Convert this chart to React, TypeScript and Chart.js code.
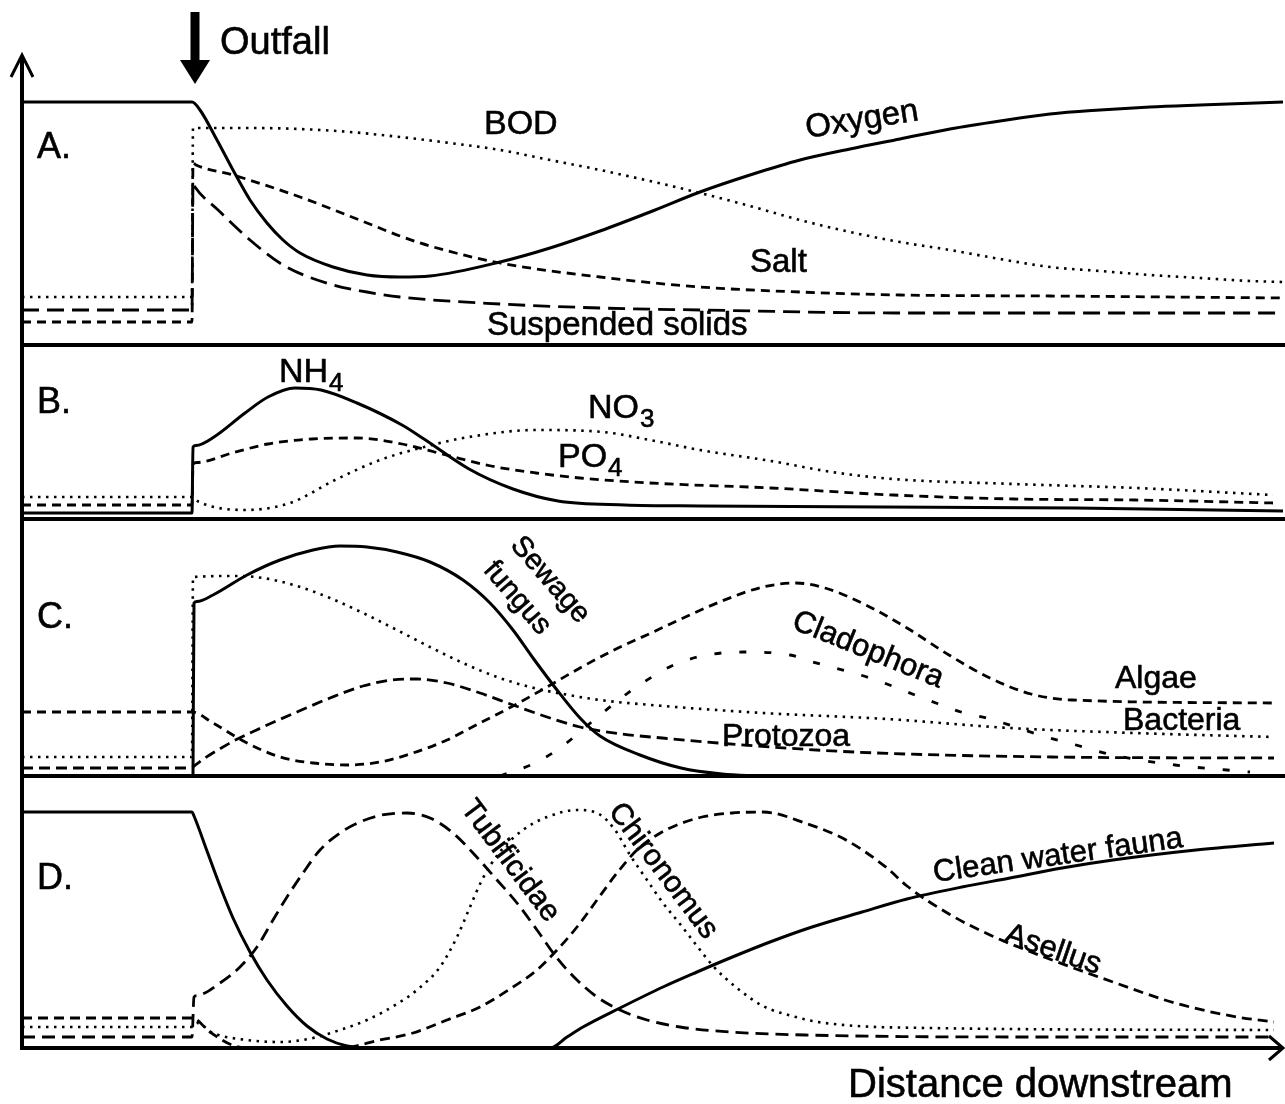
import React, { useEffect, useRef } from "react";
import { Chart, registerables } from "chart.js";

Chart.register(...registerables);

type Pt = [number, number];

// Distance downstream (0 = left axis, outfall at ~171) and level above each panel's floor.
const panelFloor = [703, 529, 272, 0]; // A, B, C, D
const yTop = 993;
const xMax = 1261;
const outfallAt = 172;

// ---- Panel A ----
const oxygen: Pt[] = [[0,243],[170,243],[178,235],[195,205],[211,175],[228,145],[245,122],[261,105],[278,92],[311,78],[345,70],[378,68],[408,69],[478,83],[528,97],[578,114],[628,133],[678,153],[728,170],[778,185],[828,196],[878,206],[928,216],[978,224],[1028,231],[1078,235],[1128,238],[1178,240],[1261,243]];
const bod: Pt[] = [[0,48],[170,48],[171,217],[228,217],[278,216],[328,213],[378,208],[428,202],[478,195],[528,185],[578,175],[628,164],[678,152],[728,139],[778,125],[828,113],[878,103],[928,95],[978,86],[1028,78],[1078,74],[1128,70],[1178,67],[1228,64],[1261,63]];
const salt: Pt[] = [[0,23],[170,23],[171,182],[174,180],[211,170],[278,148],[345,122],[378,109],[408,99],[478,82],[578,68],[678,58],[778,53],[878,50],[1028,49],[1261,47]];
const suspendedSolids: Pt[] = [[0,35],[170,35],[171,162],[173,158],[195,136],[228,105],[261,80],[311,60],[345,53],[378,48],[478,41],[578,37],[678,35],[878,32],[1261,32]];

// ---- Panel B ----
const nh4: Pt[] = [[0,6],[170,6],[171,72],[174,73.5],[192,82],[223,106],[246,122],[273,131],[299,129],[335,116],[380,94],[402,80],[447,50],[491,30],[536,18],[603,14],[678,13],[1053,11],[1261,8]];
const po4: Pt[] = [[0,14],[170,14],[171,55],[175,56.5],[210,66],[246,75],[290,80],[335,81],[380,75],[424,64],[469,53],[514,46],[558,41],[628,36],[749,31],[871,24],[992,20],[1114,19],[1251,16]];
const no3: Pt[] = [[0,22],[170,22],[177,17],[223,9],[268,16],[313,39],[358,59],[402,72],[447,82],[514,89],[581,87],[628,79],[678,69],[749,58],[810,47],[871,40],[992,35],[1114,31],[1251,24]];

// ---- Panel C ----
const sewageFungus: Pt[] = [[171,0],[172,173],[175,174.5],[191,181],[225,201],[258,216],[291,226],[318,230],[345,229],[375,224],[408,214],[441,196],[468,173],[491,146],[511,118],[535,86],[558,58],[578,40],[618,21],[659,8],[700,2],[738,0]];
const bacteria: Pt[] = [[0,19],[170,19],[171,199],[215,200],[241,198],[275,190],[308,178],[341,163],[375,146],[408,129],[441,113],[475,99],[508,89],[541,82],[578,76],[629,71],[741,63],[865,57],[988,48],[1112,43],[1252,39]];
const algae: Pt[] = [[0,64],[170,64],[191,53],[225,33],[258,19],[291,13],[325,11],[358,14],[391,23],[425,36],[458,53],[491,70],[525,89],[558,108],[590,125],[629,143],[659,157],[700,175],[741,189],[774,193],[803,188],[844,171],[885,148],[927,121],[968,98],[1009,82],[1050,76],[1252,73]];
const protozoa: Pt[] = [[0,8],[170,8],[171,9],[208,33],[241,49],[275,64],[308,78],[341,90],[370,96],[395,97],[425,93],[458,83],[491,71],[525,59],[558,49],[600,42],[640,38],[696,33],[832,24],[1030,19],[1252,18]];
const cladophora: Pt[] = [[478,0],[513,13],[538,28],[578,61],[613,88],[659,114],[721,124],[768,121],[791,114],[848,98],[906,76],[939,64],[968,57],[1021,40],[1054,31],[1091,21],[1153,11],[1228,4]];

// ---- Panel D ----
const cleanWaterFauna: Pt[] = [[0,236],[170,236],[172,232],[185,197],[198,162],[211,130],[228,96],[245,68],[265,42],[285,22],[305,9],[325,2],[345,0],[528,0],[545,11],[561,21],[598,40],[641,61],[675,76],[708,90],[748,106],[790,121],[840,136],[885,149],[940,161],[988,170],[1040,180],[1091,188],[1174,198],[1252,205]];
const tubificidae: Pt[] = [[0,11],[170,11],[172,51],[175,52.5],[198,65],[218,81],[235,101],[251,128],[265,151],[281,175],[298,198],[318,215],[338,226],[360,233],[385,235],[408,230],[431,215],[451,195],[475,168],[495,145],[515,118],[535,90],[555,68],[575,51],[598,38],[625,28],[658,21],[708,16],[783,13],[1030,11],[1252,11]];
const chironomus: Pt[] = [[0,21],[170,21],[175,25],[191,15],[225,8],[258,6],[291,10],[318,18],[345,28],[375,44],[395,58],[418,81],[435,111],[448,141],[460,168],[477,195],[501,218],[525,231],[555,238],[577,234],[593,218],[608,193],[625,168],[641,145],[658,124],[675,102],[692,81],[715,60],[741,42],[770,32],[803,25],[906,20],[1252,18]];
const asellus: Pt[] = [[0,30],[170,30],[188,16],[210,3],[228,0],[318,0],[358,8],[391,15],[425,28],[458,41],[491,61],[515,78],[535,98],[555,121],[575,148],[595,175],[615,198],[635,213],[655,223],[680,231],[710,235],[741,236],[783,225],[824,208],[865,180],[885,162],[927,134],[968,113],[1030,88],[1091,66],[1153,45],[1215,31],[1252,26]];

const SOLID = { width: 3, dash: [] as number[] };
const DOT = { width: 2.6, dash: [2.5, 5.5] };
const SHORTDASH = { width: 2.8, dash: [9, 6] };
const LONGDASH = { width: 2.8, dash: [17, 8] };
const SPARSE = { width: 2.8, dash: [7, 18] };

const series = [
  { name: "Oxygen", pts: oxygen, panel: 0, style: SOLID },
  { name: "BOD", pts: bod, panel: 0, style: DOT },
  { name: "Salt", pts: salt, panel: 0, style: SHORTDASH },
  { name: "Suspended solids", pts: suspendedSolids, panel: 0, style: LONGDASH },
  { name: "NH4", pts: nh4, panel: 1, style: SOLID },
  { name: "NO3", pts: no3, panel: 1, style: DOT },
  { name: "PO4", pts: po4, panel: 1, style: SHORTDASH },
  { name: "Sewage fungus", pts: sewageFungus, panel: 2, style: SOLID },
  { name: "Bacteria", pts: bacteria, panel: 2, style: DOT },
  { name: "Algae", pts: algae, panel: 2, style: SHORTDASH },
  { name: "Protozoa", pts: protozoa, panel: 2, style: { width: 2.8, dash: [11, 6] } },
  { name: "Cladophora", pts: cladophora, panel: 2, style: SPARSE },
  { name: "Clean water fauna", pts: cleanWaterFauna, panel: 3, style: SOLID },
  { name: "Tubificidae", pts: tubificidae, panel: 3, style: { width: 2.8, dash: [13, 7] } },
  { name: "Chironomus", pts: chironomus, panel: 3, style: DOT },
  { name: "Asellus", pts: asellus, panel: 3, style: { width: 2.8, dash: [10, 6] } },
];

type Lab = { text: string; d: number; v: number; size: number; rot?: number; center?: boolean; sub?: string };
const annotations: Lab[] = [
  { text: "Outfall", d: 198, v: 994, size: 38 },
  { text: "A.", d: 15, v: 890, size: 36 },
  { text: "B.", d: 15, v: 635, size: 36 },
  { text: "C.", d: 15, v: 420, size: 36 },
  { text: "D.", d: 15, v: 159, size: 36 },
  { text: "BOD", d: 462, v: 914, size: 34 },
  { text: "Oxygen", d: 840, v: 928, size: 33, rot: -9, center: true },
  { text: "Salt", d: 728, v: 776, size: 33 },
  { text: "Suspended solids", d: 465, v: 713, size: 33 },
  { text: "NH", d: 257, v: 666, size: 34, sub: "4" },
  { text: "NO", d: 566, v: 630, size: 34, sub: "3" },
  { text: "PO", d: 536, v: 581, size: 34, sub: "4" },
  { text: "Sewage", d: 528, v: 468, size: 29, rot: 49, center: true },
  { text: "fungus", d: 495, v: 450, size: 29, rot: 49, center: true },
  { text: "Cladophora", d: 846, v: 398, size: 31, rot: 22, center: true },
  { text: "Algae", d: 1093, v: 360, size: 32 },
  { text: "Bacteria", d: 1101, v: 318, size: 32 },
  { text: "Protozoa", d: 700, v: 302, size: 32 },
  { text: "Tubificidae", d: 488, v: 187, size: 30, rot: 53, center: true },
  { text: "Chironomus", d: 641, v: 177, size: 30, rot: 53, center: true },
  { text: "Clean water fauna", d: 1036, v: 192, size: 31, rot: -8, center: true },
  { text: "Asellus", d: 1031, v: 98, size: 31, rot: 19, center: true },
  { text: "Distance downstream", d: 826, v: -49, size: 40 },
];

const FONT = '"Liberation Sans", Arial, Helvetica, sans-serif';

const decor = {
  id: "decor",
  beforeDatasetsDraw(chart: any) {
    const { ctx } = chart;
    const x = chart.scales.x, y = chart.scales.y;
    ctx.save();
    ctx.strokeStyle = "#000";
    ctx.lineWidth = 4;
    ctx.setLineDash([]);
    const x0 = x.getPixelForValue(0);
    for (const f of panelFloor.slice(0, 3)) {
      const py = y.getPixelForValue(f);
      ctx.beginPath();
      ctx.moveTo(x0, py);
      ctx.lineTo(chart.width, py);
      ctx.stroke();
    }
    ctx.restore();
  },
  afterDatasetsDraw(chart: any) {
    const { ctx } = chart;
    const x = chart.scales.x, y = chart.scales.y;
    const x0 = x.getPixelForValue(0);
    const y0 = y.getPixelForValue(0);
    const yT = y.getPixelForValue(yTop);
    const xR = x.getPixelForValue(xMax);
    ctx.save();
    ctx.strokeStyle = "#000";
    ctx.fillStyle = "#000";
    ctx.setLineDash([]);
    ctx.lineWidth = 4;
    ctx.lineCap = "butt";
    ctx.beginPath();
    ctx.moveTo(x0, y0 + 2);
    ctx.lineTo(x0, yT + 2);
    ctx.moveTo(x0 - 2, y0);
    ctx.lineTo(xR - 1, y0);
    ctx.stroke();
    ctx.lineWidth = 3;
    ctx.beginPath();
    ctx.moveTo(x0 - 11, yT + 22);
    ctx.lineTo(x0, yT);
    ctx.lineTo(x0 + 11, yT + 22);
    ctx.moveTo(xR - 14, y0 - 12);
    ctx.lineTo(xR, y0);
    ctx.lineTo(xR - 14, y0 + 12);
    ctx.stroke();
    const ox = x.getPixelForValue(outfallAt) + 1;
    ctx.fillRect(ox - 4.5, 12, 9, 50);
    ctx.beginPath();
    ctx.moveTo(ox - 15, 60);
    ctx.lineTo(ox + 15, 60);
    ctx.lineTo(ox, 84);
    ctx.closePath();
    ctx.fill();
    ctx.lineWidth = 0.6;
    for (const t of annotations) {
      const px = x.getPixelForValue(t.d);
      const py = y.getPixelForValue(t.v);
      ctx.save();
      ctx.translate(px, py);
      if (t.rot) ctx.rotate((t.rot * Math.PI) / 180);
      ctx.font = `${t.size}px ${FONT}`;
      ctx.textAlign = t.center ? "center" : "left";
      ctx.textBaseline = t.center ? "middle" : "alphabetic";
      ctx.fillText(t.text, 0, 0);
      ctx.strokeText(t.text, 0, 0);
      if (t.sub) {
        const w = ctx.measureText(t.text).width;
        ctx.font = `${Math.round(t.size * 0.76)}px ${FONT}`;
        ctx.fillText(t.sub, w + 1, 9);
        ctx.strokeText(t.sub, w + 1, 9);
      }
      ctx.restore();
    }
    ctx.restore();
  },
};

export default function App() {
  const ref = useRef<HTMLCanvasElement>(null);
  useEffect(() => {
    const canvas = ref.current!;
    const datasets = series.map((s) => ({
      label: s.name,
      data: s.pts.map(([d, v]) => ({ x: d, y: v + panelFloor[s.panel] })),
      borderColor: "#000",
      borderWidth: s.style.width,
      borderDash: s.style.dash,
      borderCapStyle: "butt",
      borderJoinStyle: "round",
      pointRadius: 0,
      pointHoverRadius: 0,
      fill: false,
      cubicInterpolationMode: "monotone",
      clip: false,
    }));
    const chart = new Chart(canvas, {
      type: "line",
      data: { datasets } as any,
      options: {
        animation: false,
        responsive: false,
        devicePixelRatio: 1,
        events: [],
        layout: { padding: { left: 22, right: 2, top: 55, bottom: 56 } },
        plugins: { legend: { display: false }, tooltip: { enabled: false } },
        scales: {
          x: { type: "linear", min: 0, max: xMax, display: false },
          y: { type: "linear", min: 0, max: yTop, display: false },
        },
      } as any,
      plugins: [decor as any],
    });
    return () => chart.destroy();
  }, []);
  return (
    <div style={{ position: "absolute", left: 0, top: 0, width: 1285, height: 1104, background: "#fff" }}>
      <canvas ref={ref} width={1285} height={1104} style={{ display: "block" }} />
    </div>
  );
}
